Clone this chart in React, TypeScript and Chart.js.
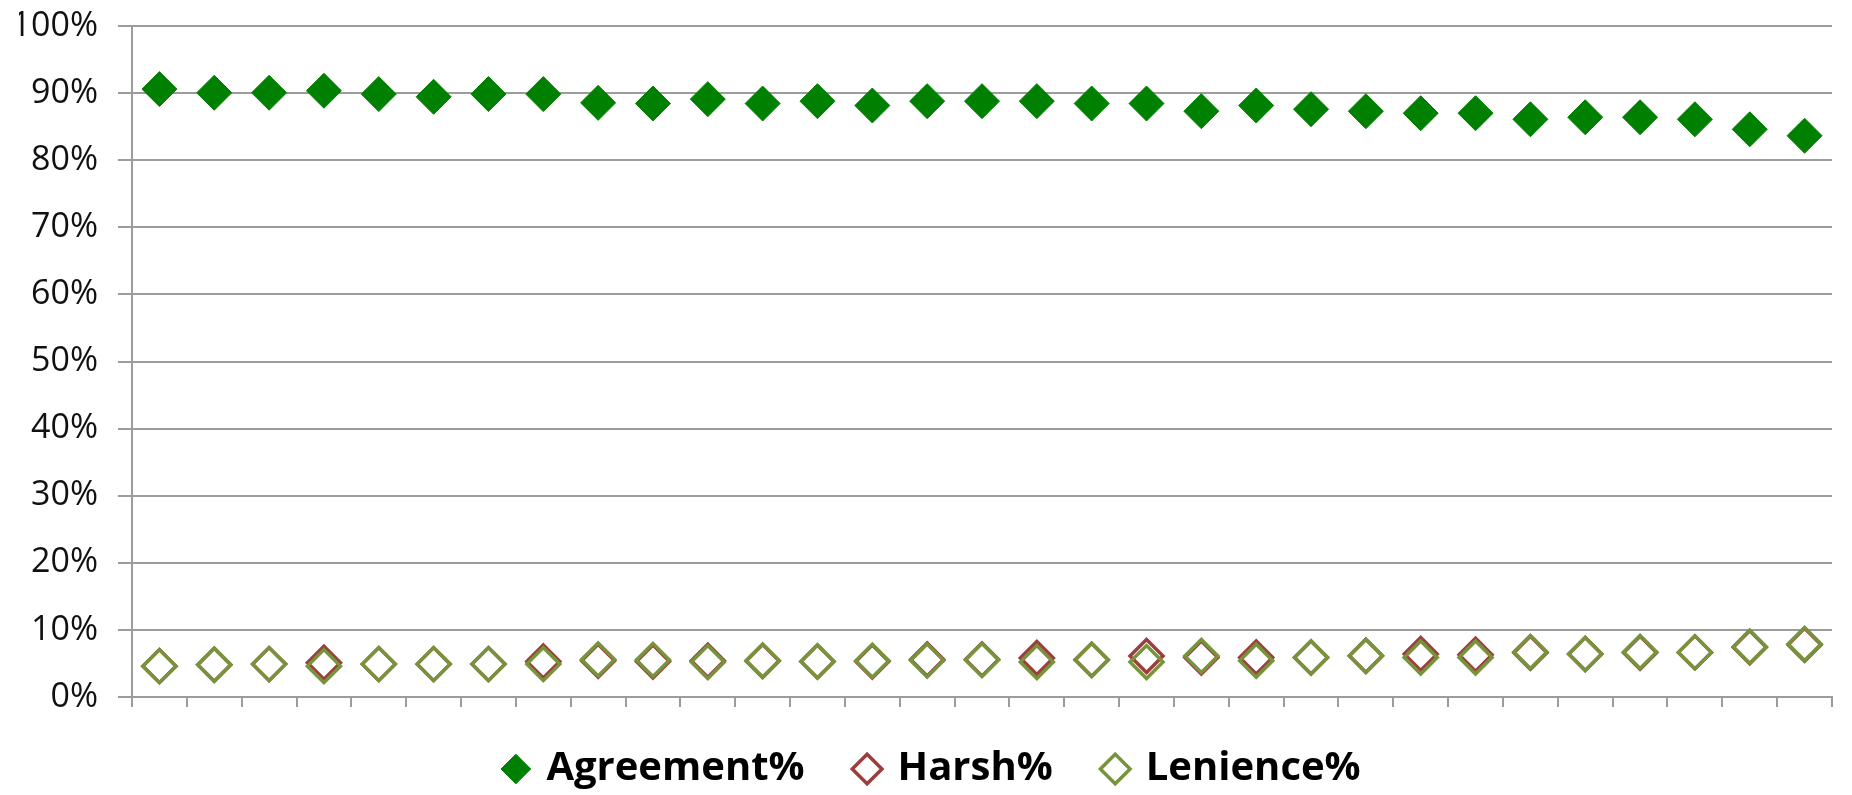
import React, { useEffect, useRef } from "react";
import { Chart, registerables } from "chart.js";

Chart.register(...registerables);

const categories = [
  "1", "2", "3", "4", "5", "6", "7", "8", "9", "10",
  "11", "12", "13", "14", "15", "16", "17", "18", "19", "20",
  "21", "22", "23", "24", "25", "26", "27", "28", "29", "30", "31",
];

const agreement = [
  90.6, 90.05, 90.05, 90.35, 89.85, 89.45, 89.85, 89.85, 88.55, 88.45,
  89.1, 88.45, 88.8, 88.15, 88.8, 88.8, 88.8, 88.45, 88.45, 87.3,
  88.15, 87.6, 87.3, 87.0, 87.0, 86.1, 86.4, 86.4, 86.1, 84.6, 83.65,
];

const harsh = [
  4.6, 4.8, 4.9, 5.1, 4.9, 4.9, 4.9, 5.3, 5.4, 5.3,
  5.4, 5.35, 5.3, 5.3, 5.6, 5.6, 5.8, 5.55, 6.1, 5.9,
  5.9, 5.9, 6.15, 6.4, 6.3, 6.6, 6.4, 6.6, 6.65, 7.4, 7.8,
];

const lenience = [
  4.6, 4.8, 4.9, 4.6, 4.9, 4.9, 4.9, 4.9, 5.6, 5.5,
  5.2, 5.45, 5.3, 5.4, 5.45, 5.5, 5.2, 5.5, 5.2, 6.1,
  5.4, 5.9, 6.1, 5.9, 5.9, 6.7, 6.4, 6.7, 6.65, 7.5, 7.9,
];

const seriesNames = ["Agreement%", "Harsh%", "Lenience%"];

const GRID = "#9c9c9c";
const GREEN = "#008000";
const RED = "#9B3F3C";
const OLIVE = "#77933C";

export default function App() {
  const canvasRef = useRef<HTMLCanvasElement | null>(null);

  useEffect(() => {
    const canvas = canvasRef.current;
    if (!canvas) return;
    const chart = new Chart(canvas, {
      type: "line",
      data: {
        labels: categories,
        datasets: [
          {
            label: seriesNames[0],
            data: agreement,
            showLine: false,
            pointStyle: "rectRot",
            pointRadius: 17.5,
            pointHoverRadius: 17.5,
            backgroundColor: GREEN,
            borderColor: GREEN,
            borderWidth: 1,
            order: 0,
          },
          {
            label: seriesNames[1],
            data: harsh,
            showLine: false,
            pointStyle: "rectRot",
            pointRadius: 16.5,
            pointHoverRadius: 16.5,
            backgroundColor: "rgba(255,255,255,0)",
            borderColor: RED,
            borderWidth: 3.5,
            pointBorderWidth: 3.5,
            order: 2,
          },
          {
            label: seriesNames[2],
            data: lenience,
            showLine: false,
            pointStyle: "rectRot",
            pointRadius: 16.5,
            pointHoverRadius: 16.5,
            backgroundColor: "rgba(255,255,255,0)",
            borderColor: OLIVE,
            borderWidth: 3.5,
            pointBorderWidth: 3.5,
            order: 1,
          },
        ],
      },
      options: {
        animation: false,
        responsive: false,
        layout: { padding: { top: 26, left: 19, right: 5, bottom: 0 } },
        scales: {
          x: {
            type: "category",
            offset: true,
            grid: {
              display: true,
              drawOnChartArea: false,
              drawTicks: true,
              tickLength: 10,
              offset: true,
              color: GRID,
              lineWidth: 2,
            },
            border: { display: true, color: GRID, width: 2 },
            ticks: { display: false },
            afterFit: (s: any) => {
              s.height = 0;
            },
          },
          y: {
            min: 0,
            max: 100,
            ticks: {
              stepSize: 10,
              callback: (v: any) => v + "%",
              color: "#111",
              font: { family: "'Open Sans'", size: 34 },
              padding: 20,
            },
            grid: { color: GRID, lineWidth: 2, tickLength: 14, drawTicks: true },
            border: { display: true, color: GRID, width: 2 },
            afterFit: (s: any) => {
              s.width = 113;
              s.paddingTop = 0;
              s.paddingBottom = 0;
            },
          },
          ySpacer: {
            type: "linear",
            position: "right",
            display: true,
            grid: { display: false, drawTicks: false },
            border: { display: false },
            ticks: { display: false },
            afterFit: (s: any) => {
              s.width = 14;
              s.paddingTop = 0;
              s.paddingBottom = 0;
            },
          },
        },
        plugins: {
          tooltip: { enabled: false },
          legend: {
            position: "bottom",
            maxHeight: 98,
            labels: {
              usePointStyle: true,
              boxWidth: 21,
              boxHeight: 21,
              padding: 52,
              color: "#000",
              font: { family: "'Open Sans'", size: 40, weight: "bold" },
              sort: (a: any, b: any) => a.datasetIndex - b.datasetIndex,
            },
          },
        },
      },
    } as any);
    return () => chart.destroy();
  }, []);

  return (
    <div style={{ position: "fixed", left: 0, top: 0, width: 1852, height: 795, background: "#fff" }}>
      <canvas ref={canvasRef} width={1852} height={795} style={{ display: "block", width: 1852, height: 795 }} />
    </div>
  );
}
